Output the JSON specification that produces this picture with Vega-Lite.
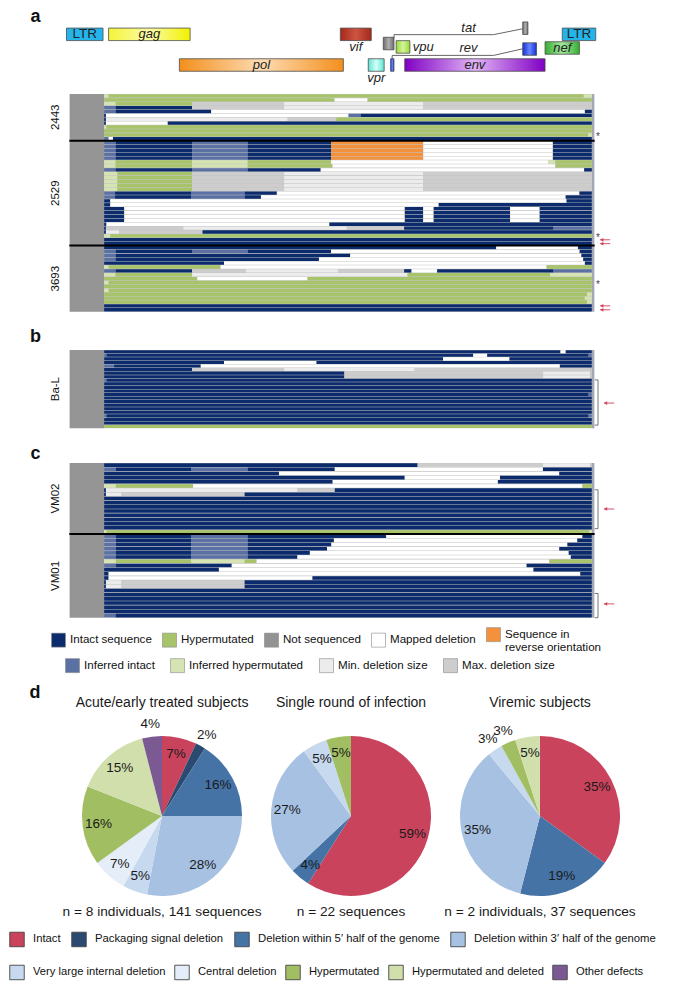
{
"$schema":"https://vega.github.io/schema/vega-lite/v6.json",
"padding":0,"spacing":0,"bounds":"flush",
"config":{"view":{"stroke":null},"font":"Liberation Sans"},
"resolve":{"scale":{"color":"independent"},"legend":{"color":"independent"}},
"datasets":{
"genes":[{"g":"LTR","a":28,"b":697,"l":1},{"g":"gag","a":799,"b":2292,"l":1},{"g":"vif","a":5043,"b":5609,"l":1},{"g":"tat","a":8383,"b":8478,"l":0.6},{"g":"LTR","a":9107,"b":9720,"l":1},{"g":"tat","a":5829,"b":6025,"l":1.6},{"g":"vpu","a":6065,"b":6316,"l":1.82},{"g":"rev","a":8383,"b":8635,"l":1.96},{"g":"nef","a":8792,"b":9421,"l":1.89},{"g":"pol","a":2095,"b":5098,"l":3},{"g":"vpr","a":5554,"b":5845,"l":3},{"g":"rev","a":5963,"b":6025,"l":3},{"g":"env","a":6222,"b":8792,"l":3}],
"splice":[{"g":"tat","k":0,"x":6026,"y":1.24},{"g":"tat","k":1,"x":6026,"y":1.02},{"g":"tat","k":2,"x":7849,"y":1.02},{"g":"tat","k":3,"x":8383,"y":0.635},{"g":"rev","k":0,"x":5992,"y":2.64},{"g":"rev","k":1,"x":5992,"y":2.374},{"g":"rev","k":2,"x":7849,"y":2.374},{"g":"rev","k":3,"x":8383,"y":1.945}],
"A":[
{"s":"2443","r":0,"a":717,"b":800,"c":"IH"},{"s":"2443","r":0,"a":800,"b":9500,"c":"H"},{"s":"2443","r":0,"a":9500,"b":9648,"c":"IH"},
{"s":"2443","r":1,"a":717,"b":4937,"c":"H"},{"s":"2443","r":1,"a":4937,"b":5542,"c":"D"},{"s":"2443","r":1,"a":5542,"b":9648,"c":"H"},
{"s":"2443","r":2,"a":717,"b":927,"c":"IH"},{"s":"2443","r":2,"a":927,"b":2327,"c":"H"},{"s":"2443","r":2,"a":2327,"b":4014,"c":"MX"},{"s":"2443","r":2,"a":4014,"b":6561,"c":"MN"},{"s":"2443","r":2,"a":6561,"b":9648,"c":"MX"},
{"s":"2443","r":3,"a":717,"b":927,"c":"II"},{"s":"2443","r":3,"a":927,"b":2327,"c":"I"},{"s":"2443","r":3,"a":2327,"b":4014,"c":"MX"},{"s":"2443","r":3,"a":4014,"b":6561,"c":"MN"},{"s":"2443","r":3,"a":6561,"b":9648,"c":"MX"},
{"s":"2443","r":4,"a":717,"b":927,"c":"II"},{"s":"2443","r":4,"a":927,"b":2678,"c":"I"},{"s":"2443","r":4,"a":2678,"b":9521,"c":"D"},{"s":"2443","r":4,"a":9521,"b":9648,"c":"I"},
{"s":"2443","r":5,"a":717,"b":750,"c":"I"},{"s":"2443","r":5,"a":750,"b":5192,"c":"D"},{"s":"2443","r":5,"a":5192,"b":5415,"c":"II"},{"s":"2443","r":5,"a":5415,"b":9648,"c":"I"},
{"s":"2443","r":6,"a":717,"b":750,"c":"I"},{"s":"2443","r":6,"a":750,"b":4078,"c":"MN"},{"s":"2443","r":6,"a":4078,"b":4970,"c":"MX"},{"s":"2443","r":6,"a":4970,"b":9648,"c":"H"},
{"s":"2443","r":7,"a":717,"b":750,"c":"I"},{"s":"2443","r":7,"a":750,"b":1882,"c":"D"},{"s":"2443","r":7,"a":1882,"b":9648,"c":"I"},
{"s":"2443","r":8,"a":717,"b":760,"c":"IH"},{"s":"2443","r":8,"a":760,"b":9648,"c":"H"},
{"s":"2443","r":9,"a":717,"b":9648,"c":"H"},
{"s":"2443","r":10,"a":717,"b":9580,"c":"H"},{"s":"2443","r":10,"a":9580,"b":9648,"c":"IH"},
{"s":"2443","r":11,"a":717,"b":800,"c":"II"},{"s":"2443","r":11,"a":800,"b":880,"c":"D"},{"s":"2443","r":11,"a":880,"b":9648,"c":"I"},
{"s":"2529","r":12,"a":717,"b":927,"c":"II"},{"s":"2529","r":12,"a":927,"b":2327,"c":"I"},{"s":"2529","r":12,"a":2327,"b":3346,"c":"II"},{"s":"2529","r":12,"a":3346,"b":4874,"c":"I"},{"s":"2529","r":12,"a":4874,"b":6561,"c":"R"},{"s":"2529","r":12,"a":6561,"b":8935,"c":"D"},{"s":"2529","r":12,"a":8935,"b":9648,"c":"I"},
{"s":"2529","r":13,"a":717,"b":927,"c":"II"},{"s":"2529","r":13,"a":927,"b":2327,"c":"I"},{"s":"2529","r":13,"a":2327,"b":3346,"c":"II"},{"s":"2529","r":13,"a":3346,"b":4874,"c":"I"},{"s":"2529","r":13,"a":4874,"b":6561,"c":"R"},{"s":"2529","r":13,"a":6561,"b":8935,"c":"D"},{"s":"2529","r":13,"a":8935,"b":9648,"c":"I"},
{"s":"2529","r":14,"a":717,"b":927,"c":"II"},{"s":"2529","r":14,"a":927,"b":2327,"c":"I"},{"s":"2529","r":14,"a":2327,"b":3346,"c":"II"},{"s":"2529","r":14,"a":3346,"b":4874,"c":"I"},{"s":"2529","r":14,"a":4874,"b":6561,"c":"R"},{"s":"2529","r":14,"a":6561,"b":8935,"c":"D"},{"s":"2529","r":14,"a":8935,"b":9648,"c":"I"},
{"s":"2529","r":15,"a":717,"b":927,"c":"II"},{"s":"2529","r":15,"a":927,"b":2327,"c":"I"},{"s":"2529","r":15,"a":2327,"b":3346,"c":"II"},{"s":"2529","r":15,"a":3346,"b":4874,"c":"I"},{"s":"2529","r":15,"a":4874,"b":6561,"c":"R"},{"s":"2529","r":15,"a":6561,"b":8935,"c":"D"},{"s":"2529","r":15,"a":8935,"b":9648,"c":"I"},
{"s":"2529","r":16,"a":717,"b":927,"c":"II"},{"s":"2529","r":16,"a":927,"b":2327,"c":"I"},{"s":"2529","r":16,"a":2327,"b":3346,"c":"II"},{"s":"2529","r":16,"a":3346,"b":4874,"c":"I"},{"s":"2529","r":16,"a":4874,"b":6561,"c":"R"},{"s":"2529","r":16,"a":6561,"b":8935,"c":"D"},{"s":"2529","r":16,"a":8935,"b":9648,"c":"I"},
{"s":"2529","r":17,"a":717,"b":927,"c":"IH"},{"s":"2529","r":17,"a":927,"b":2327,"c":"H"},{"s":"2529","r":17,"a":2327,"b":3346,"c":"IH"},{"s":"2529","r":17,"a":3346,"b":4874,"c":"H"},{"s":"2529","r":17,"a":4874,"b":8852,"c":"D"},{"s":"2529","r":17,"a":8852,"b":8980,"c":"IH"},{"s":"2529","r":17,"a":8980,"b":9648,"c":"H"},
{"s":"2529","r":18,"a":717,"b":927,"c":"IH"},{"s":"2529","r":18,"a":927,"b":2327,"c":"H"},{"s":"2529","r":18,"a":2327,"b":3346,"c":"IH"},{"s":"2529","r":18,"a":3346,"b":4900,"c":"H"},{"s":"2529","r":18,"a":4900,"b":8980,"c":"D"},{"s":"2529","r":18,"a":8980,"b":9648,"c":"H"},
{"s":"2529","r":19,"a":717,"b":927,"c":"II"},{"s":"2529","r":19,"a":927,"b":2327,"c":"I"},{"s":"2529","r":19,"a":2327,"b":3346,"c":"II"},{"s":"2529","r":19,"a":3346,"b":4683,"c":"I"},{"s":"2529","r":19,"a":4683,"b":9508,"c":"D"},{"s":"2529","r":19,"a":9508,"b":9648,"c":"I"},
{"s":"2529","r":20,"a":717,"b":959,"c":"IH"},{"s":"2529","r":20,"a":959,"b":2327,"c":"H"},{"s":"2529","r":20,"a":2327,"b":4014,"c":"MX"},{"s":"2529","r":20,"a":4014,"b":6561,"c":"MN"},{"s":"2529","r":20,"a":6561,"b":9648,"c":"MX"},
{"s":"2529","r":21,"a":717,"b":959,"c":"IH"},{"s":"2529","r":21,"a":959,"b":2327,"c":"H"},{"s":"2529","r":21,"a":2327,"b":4014,"c":"MX"},{"s":"2529","r":21,"a":4014,"b":6561,"c":"MN"},{"s":"2529","r":21,"a":6561,"b":9648,"c":"MX"},
{"s":"2529","r":22,"a":717,"b":959,"c":"IH"},{"s":"2529","r":22,"a":959,"b":2327,"c":"H"},{"s":"2529","r":22,"a":2327,"b":4014,"c":"MX"},{"s":"2529","r":22,"a":4014,"b":6561,"c":"MN"},{"s":"2529","r":22,"a":6561,"b":9648,"c":"MX"},
{"s":"2529","r":23,"a":717,"b":959,"c":"IH"},{"s":"2529","r":23,"a":959,"b":2327,"c":"H"},{"s":"2529","r":23,"a":2327,"b":4014,"c":"MX"},{"s":"2529","r":23,"a":4014,"b":6561,"c":"MN"},{"s":"2529","r":23,"a":6561,"b":9648,"c":"MX"},
{"s":"2529","r":24,"a":717,"b":959,"c":"IH"},{"s":"2529","r":24,"a":959,"b":2327,"c":"H"},{"s":"2529","r":24,"a":2327,"b":4014,"c":"MX"},{"s":"2529","r":24,"a":4014,"b":6561,"c":"MN"},{"s":"2529","r":24,"a":6561,"b":9648,"c":"MX"},
{"s":"2529","r":25,"a":717,"b":917,"c":"II"},{"s":"2529","r":25,"a":917,"b":2308,"c":"I"},{"s":"2529","r":25,"a":2308,"b":3290,"c":"II"},{"s":"2529","r":25,"a":3290,"b":3880,"c":"I"},{"s":"2529","r":25,"a":3880,"b":9421,"c":"D"},{"s":"2529","r":25,"a":9421,"b":9648,"c":"I"},
{"s":"2529","r":26,"a":717,"b":917,"c":"II"},{"s":"2529","r":26,"a":917,"b":2308,"c":"I"},{"s":"2529","r":26,"a":2308,"b":3290,"c":"II"},{"s":"2529","r":26,"a":3290,"b":3589,"c":"I"},{"s":"2529","r":26,"a":3589,"b":9169,"c":"D"},{"s":"2529","r":26,"a":9169,"b":9648,"c":"I"},
{"s":"2529","r":27,"a":717,"b":830,"c":"I"},{"s":"2529","r":27,"a":830,"b":9185,"c":"D"},{"s":"2529","r":27,"a":9185,"b":9648,"c":"I"},
{"s":"2529","r":28,"a":717,"b":830,"c":"I"},{"s":"2529","r":28,"a":830,"b":6843,"c":"D"},{"s":"2529","r":28,"a":6843,"b":9648,"c":"I"},
{"s":"2529","r":29,"a":717,"b":1086,"c":"I"},{"s":"2529","r":29,"a":1086,"b":6223,"c":"D"},{"s":"2529","r":29,"a":6223,"b":6561,"c":"I"},{"s":"2529","r":29,"a":6561,"b":6752,"c":"D"},{"s":"2529","r":29,"a":6752,"b":8152,"c":"I"},{"s":"2529","r":29,"a":8152,"b":8693,"c":"D"},{"s":"2529","r":29,"a":8693,"b":9648,"c":"I"},
{"s":"2529","r":30,"a":717,"b":1086,"c":"I"},{"s":"2529","r":30,"a":1086,"b":6223,"c":"D"},{"s":"2529","r":30,"a":6223,"b":6561,"c":"I"},{"s":"2529","r":30,"a":6561,"b":6752,"c":"D"},{"s":"2529","r":30,"a":6752,"b":8152,"c":"I"},{"s":"2529","r":30,"a":8152,"b":8693,"c":"D"},{"s":"2529","r":30,"a":8693,"b":9648,"c":"I"},
{"s":"2529","r":31,"a":717,"b":1086,"c":"I"},{"s":"2529","r":31,"a":1086,"b":6223,"c":"D"},{"s":"2529","r":31,"a":6223,"b":6561,"c":"I"},{"s":"2529","r":31,"a":6561,"b":6752,"c":"D"},{"s":"2529","r":31,"a":6752,"b":8152,"c":"I"},{"s":"2529","r":31,"a":8152,"b":8693,"c":"D"},{"s":"2529","r":31,"a":8693,"b":9648,"c":"I"},
{"s":"2529","r":32,"a":717,"b":1086,"c":"I"},{"s":"2529","r":32,"a":1086,"b":6223,"c":"D"},{"s":"2529","r":32,"a":6223,"b":6561,"c":"I"},{"s":"2529","r":32,"a":6561,"b":6752,"c":"D"},{"s":"2529","r":32,"a":6752,"b":8152,"c":"I"},{"s":"2529","r":32,"a":8152,"b":8693,"c":"D"},{"s":"2529","r":32,"a":8693,"b":9648,"c":"I"},
{"s":"2529","r":33,"a":717,"b":760,"c":"I"},{"s":"2529","r":33,"a":760,"b":4842,"c":"D"},{"s":"2529","r":33,"a":4842,"b":9648,"c":"I"},
{"s":"2529","r":34,"a":717,"b":750,"c":"I"},{"s":"2529","r":34,"a":750,"b":2168,"c":"MX"},{"s":"2529","r":34,"a":2168,"b":5160,"c":"MN"},{"s":"2529","r":34,"a":5160,"b":6211,"c":"MX"},{"s":"2529","r":34,"a":6211,"b":8948,"c":"I"},{"s":"2529","r":34,"a":8948,"b":9648,"c":"II"},
{"s":"2529","r":35,"a":717,"b":750,"c":"I"},{"s":"2529","r":35,"a":750,"b":990,"c":"MN"},{"s":"2529","r":35,"a":990,"b":2519,"c":"MX"},{"s":"2529","r":35,"a":2519,"b":9648,"c":"I"},
{"s":"2529","r":36,"a":717,"b":830,"c":"IH"},{"s":"2529","r":36,"a":830,"b":9648,"c":"H"},
{"s":"2529","r":37,"a":717,"b":9648,"c":"I"},
{"s":"2529","r":38,"a":717,"b":9648,"c":"I"},
{"s":"3693","r":39,"a":717,"b":7897,"c":"I"},{"s":"3693","r":39,"a":7897,"b":9394,"c":"D"},{"s":"3693","r":39,"a":9394,"b":9648,"c":"I"},
{"s":"3693","r":40,"a":717,"b":927,"c":"II"},{"s":"3693","r":40,"a":927,"b":2327,"c":"I"},{"s":"3693","r":40,"a":2327,"b":3346,"c":"II"},{"s":"3693","r":40,"a":3346,"b":4874,"c":"I"},{"s":"3693","r":40,"a":4874,"b":9425,"c":"D"},{"s":"3693","r":40,"a":9425,"b":9648,"c":"I"},
{"s":"3693","r":41,"a":717,"b":927,"c":"II"},{"s":"3693","r":41,"a":927,"b":5224,"c":"I"},{"s":"3693","r":41,"a":5224,"b":9457,"c":"D"},{"s":"3693","r":41,"a":9457,"b":9648,"c":"I"},
{"s":"3693","r":42,"a":717,"b":927,"c":"II"},{"s":"3693","r":42,"a":927,"b":4651,"c":"I"},{"s":"3693","r":42,"a":4651,"b":9490,"c":"D"},{"s":"3693","r":42,"a":9490,"b":9648,"c":"I"},
{"s":"3693","r":43,"a":717,"b":2913,"c":"I"},{"s":"3693","r":43,"a":2913,"b":9521,"c":"D"},{"s":"3693","r":43,"a":9521,"b":9648,"c":"I"},
{"s":"3693","r":44,"a":717,"b":800,"c":"IH"},{"s":"3693","r":44,"a":800,"b":2850,"c":"H"},{"s":"3693","r":44,"a":2850,"b":8820,"c":"D"},{"s":"3693","r":44,"a":8820,"b":9648,"c":"H"},
{"s":"3693","r":45,"a":717,"b":927,"c":"II"},{"s":"3693","r":45,"a":927,"b":2327,"c":"I"},{"s":"3693","r":45,"a":2327,"b":3314,"c":"MX"},{"s":"3693","r":45,"a":3314,"b":4998,"c":"MN"},{"s":"3693","r":45,"a":4998,"b":6211,"c":"MX"},{"s":"3693","r":45,"a":6211,"b":6347,"c":"I"},{"s":"3693","r":45,"a":6347,"b":6815,"c":"D"},{"s":"3693","r":45,"a":6815,"b":8948,"c":"I"},{"s":"3693","r":45,"a":8948,"b":9648,"c":"II"},
{"s":"3693","r":46,"a":717,"b":927,"c":"IH"},{"s":"3693","r":46,"a":927,"b":2327,"c":"H"},{"s":"3693","r":46,"a":2327,"b":6274,"c":"MN"},{"s":"3693","r":46,"a":6274,"b":8884,"c":"H"},{"s":"3693","r":46,"a":8884,"b":9648,"c":"IH"},
{"s":"3693","r":47,"a":717,"b":2423,"c":"H"},{"s":"3693","r":47,"a":2423,"b":4441,"c":"D"},{"s":"3693","r":47,"a":4441,"b":9648,"c":"H"},
{"s":"3693","r":48,"a":717,"b":800,"c":"IH"},{"s":"3693","r":48,"a":800,"b":9648,"c":"H"},
{"s":"3693","r":49,"a":717,"b":9648,"c":"H"},
{"s":"3693","r":50,"a":717,"b":800,"c":"IH"},{"s":"3693","r":50,"a":800,"b":9648,"c":"H"},
{"s":"3693","r":51,"a":717,"b":9560,"c":"H"},{"s":"3693","r":51,"a":9560,"b":9648,"c":"IH"},
{"s":"3693","r":52,"a":717,"b":9520,"c":"H"},{"s":"3693","r":52,"a":9520,"b":9648,"c":"IH"},
{"s":"3693","r":53,"a":717,"b":9560,"c":"H"},{"s":"3693","r":53,"a":9560,"b":9648,"c":"IH"},
{"s":"3693","r":54,"a":717,"b":9648,"c":"I"},
{"s":"3693","r":55,"a":717,"b":9648,"c":"I"}
],
"annA":[{"r":10,"k":"s"},{"r":36,"k":"s"},{"r":48,"k":"s"},{"r":37,"k":"a"},{"r":38,"k":"a"},{"r":54,"k":"a"},{"r":55,"k":"a"}],
"B":[
{"s":"Ba-L","r":0,"a":717,"b":9075,"c":"I"},{"s":"Ba-L","r":0,"a":9075,"b":9170,"c":"D"},{"s":"Ba-L","r":0,"a":9170,"b":9648,"c":"I"},
{"s":"Ba-L","r":1,"a":717,"b":760,"c":"II"},{"s":"Ba-L","r":1,"a":760,"b":7477,"c":"I"},{"s":"Ba-L","r":1,"a":7477,"b":7732,"c":"D"},{"s":"Ba-L","r":1,"a":7732,"b":9590,"c":"I"},{"s":"Ba-L","r":1,"a":9590,"b":9648,"c":"II"},
{"s":"Ba-L","r":2,"a":717,"b":6924,"c":"I"},{"s":"Ba-L","r":2,"a":6924,"b":8140,"c":"D"},{"s":"Ba-L","r":2,"a":8140,"b":9648,"c":"I"},
{"s":"Ba-L","r":3,"a":717,"b":2913,"c":"I"},{"s":"Ba-L","r":3,"a":2913,"b":4606,"c":"D"},{"s":"Ba-L","r":3,"a":4606,"b":9648,"c":"I"},
{"s":"Ba-L","r":4,"a":717,"b":900,"c":"II"},{"s":"Ba-L","r":4,"a":900,"b":2487,"c":"I"},{"s":"Ba-L","r":4,"a":2487,"b":9063,"c":"D"},{"s":"Ba-L","r":4,"a":9063,"b":9648,"c":"I"},
{"s":"Ba-L","r":5,"a":717,"b":2327,"c":"I"},{"s":"Ba-L","r":5,"a":2327,"b":4014,"c":"MX"},{"s":"Ba-L","r":5,"a":4014,"b":6402,"c":"MN"},{"s":"Ba-L","r":5,"a":6402,"b":9617,"c":"MX"},
{"s":"Ba-L","r":6,"a":717,"b":5116,"c":"I"},{"s":"Ba-L","r":6,"a":5116,"b":8757,"c":"MX"},{"s":"Ba-L","r":6,"a":8757,"b":9617,"c":"MN"},
{"s":"Ba-L","r":7,"a":717,"b":5116,"c":"I"},{"s":"Ba-L","r":7,"a":5116,"b":8757,"c":"MX"},{"s":"Ba-L","r":7,"a":8757,"b":9617,"c":"MN"},
{"s":"Ba-L","r":8,"a":717,"b":760,"c":"II"},{"s":"Ba-L","r":8,"a":760,"b":9648,"c":"I"},
{"s":"Ba-L","r":9,"a":717,"b":9648,"c":"I"},{"s":"Ba-L","r":10,"a":717,"b":9648,"c":"I"},{"s":"Ba-L","r":11,"a":717,"b":9648,"c":"I"},{"s":"Ba-L","r":12,"a":717,"b":9590,"c":"I"},{"s":"Ba-L","r":12,"a":9590,"b":9648,"c":"II"},
{"s":"Ba-L","r":13,"a":717,"b":9648,"c":"I"},{"s":"Ba-L","r":14,"a":717,"b":9648,"c":"I"},{"s":"Ba-L","r":15,"a":717,"b":9648,"c":"I"},{"s":"Ba-L","r":16,"a":717,"b":9648,"c":"I"},{"s":"Ba-L","r":17,"a":717,"b":9648,"c":"I"},
{"s":"Ba-L","r":18,"a":717,"b":760,"c":"II"},{"s":"Ba-L","r":18,"a":760,"b":9590,"c":"I"},{"s":"Ba-L","r":18,"a":9590,"b":9648,"c":"II"},
{"s":"Ba-L","r":19,"a":717,"b":9648,"c":"I"},{"s":"Ba-L","r":20,"a":717,"b":9648,"c":"I"},
{"s":"Ba-L","r":21,"a":717,"b":9648,"c":"H"}
],
"brB":[{"r0":8.4,"r1":21.1,"ra":14.9}],
"C":[
{"s":"VM02","r":0,"a":717,"b":6458,"c":"I"},{"s":"VM02","r":0,"a":6458,"b":8753,"c":"MX"},{"s":"VM02","r":0,"a":8753,"b":9620,"c":"MN"},
{"s":"VM02","r":1,"a":717,"b":932,"c":"II"},{"s":"VM02","r":1,"a":932,"b":2308,"c":"I"},{"s":"VM02","r":1,"a":2308,"b":3345,"c":"II"},{"s":"VM02","r":1,"a":3345,"b":4941,"c":"I"},{"s":"VM02","r":1,"a":4941,"b":8753,"c":"D"},{"s":"VM02","r":1,"a":8753,"b":9648,"c":"I"},
{"s":"VM02","r":2,"a":717,"b":3919,"c":"I"},{"s":"VM02","r":2,"a":3919,"b":9052,"c":"D"},{"s":"VM02","r":2,"a":9052,"b":9648,"c":"I"},
{"s":"VM02","r":3,"a":717,"b":6222,"c":"I"},{"s":"VM02","r":3,"a":6222,"b":7967,"c":"D"},{"s":"VM02","r":3,"a":7967,"b":9648,"c":"I"},
{"s":"VM02","r":4,"a":717,"b":4902,"c":"I"},{"s":"VM02","r":4,"a":4902,"b":7928,"c":"D"},{"s":"VM02","r":4,"a":7928,"b":9648,"c":"I"},
{"s":"VM02","r":5,"a":717,"b":932,"c":"IH"},{"s":"VM02","r":5,"a":932,"b":2347,"c":"H"},{"s":"VM02","r":5,"a":2347,"b":9476,"c":"D"},{"s":"VM02","r":5,"a":9476,"b":9648,"c":"H"},
{"s":"VM02","r":6,"a":717,"b":750,"c":"I"},{"s":"VM02","r":6,"a":750,"b":4257,"c":"MN"},{"s":"VM02","r":6,"a":4257,"b":4941,"c":"MX"},{"s":"VM02","r":6,"a":4941,"b":9648,"c":"I"},
{"s":"VM02","r":7,"a":717,"b":750,"c":"I"},{"s":"VM02","r":7,"a":750,"b":1034,"c":"MN"},{"s":"VM02","r":7,"a":1034,"b":3290,"c":"MX"},{"s":"VM02","r":7,"a":3290,"b":9648,"c":"I"},
{"s":"VM02","r":8,"a":717,"b":9648,"c":"I"},{"s":"VM02","r":9,"a":717,"b":9648,"c":"I"},{"s":"VM02","r":10,"a":717,"b":9648,"c":"I"},{"s":"VM02","r":11,"a":717,"b":9648,"c":"I"},{"s":"VM02","r":12,"a":717,"b":9648,"c":"I"},{"s":"VM02","r":13,"a":717,"b":9648,"c":"I"},{"s":"VM02","r":14,"a":717,"b":9648,"c":"I"},{"s":"VM02","r":15,"a":717,"b":9648,"c":"I"},
{"s":"VM02","r":16,"a":717,"b":760,"c":"IH"},{"s":"VM02","r":16,"a":760,"b":9600,"c":"H"},{"s":"VM02","r":16,"a":9600,"b":9648,"c":"IH"},
{"s":"VM01","r":17,"a":717,"b":932,"c":"II"},{"s":"VM01","r":17,"a":932,"b":2308,"c":"I"},{"s":"VM01","r":17,"a":2308,"b":3345,"c":"II"},{"s":"VM01","r":17,"a":3345,"b":5884,"c":"I"},{"s":"VM01","r":17,"a":5884,"b":9476,"c":"D"},{"s":"VM01","r":17,"a":9476,"b":9648,"c":"I"},
{"s":"VM01","r":18,"a":717,"b":932,"c":"II"},{"s":"VM01","r":18,"a":932,"b":2308,"c":"I"},{"s":"VM01","r":18,"a":2308,"b":3345,"c":"II"},{"s":"VM01","r":18,"a":3345,"b":4925,"c":"I"},{"s":"VM01","r":18,"a":4925,"b":9382,"c":"D"},{"s":"VM01","r":18,"a":9382,"b":9648,"c":"I"},
{"s":"VM01","r":19,"a":717,"b":932,"c":"II"},{"s":"VM01","r":19,"a":932,"b":2308,"c":"I"},{"s":"VM01","r":19,"a":2308,"b":3345,"c":"II"},{"s":"VM01","r":19,"a":3345,"b":4878,"c":"I"},{"s":"VM01","r":19,"a":4878,"b":9201,"c":"D"},{"s":"VM01","r":19,"a":9201,"b":9648,"c":"I"},
{"s":"VM01","r":20,"a":717,"b":932,"c":"II"},{"s":"VM01","r":20,"a":932,"b":2308,"c":"I"},{"s":"VM01","r":20,"a":2308,"b":3345,"c":"II"},{"s":"VM01","r":20,"a":3345,"b":4799,"c":"I"},{"s":"VM01","r":20,"a":4799,"b":9052,"c":"D"},{"s":"VM01","r":20,"a":9052,"b":9648,"c":"I"},
{"s":"VM01","r":21,"a":717,"b":932,"c":"II"},{"s":"VM01","r":21,"a":932,"b":2308,"c":"I"},{"s":"VM01","r":21,"a":2308,"b":3345,"c":"II"},{"s":"VM01","r":21,"a":3345,"b":4485,"c":"I"},{"s":"VM01","r":21,"a":4485,"b":9225,"c":"D"},{"s":"VM01","r":21,"a":9225,"b":9648,"c":"I"},
{"s":"VM01","r":22,"a":717,"b":932,"c":"II"},{"s":"VM01","r":22,"a":932,"b":2308,"c":"I"},{"s":"VM01","r":22,"a":2308,"b":3345,"c":"II"},{"s":"VM01","r":22,"a":3345,"b":4257,"c":"I"},{"s":"VM01","r":22,"a":4257,"b":9264,"c":"D"},{"s":"VM01","r":22,"a":9264,"b":9648,"c":"I"},
{"s":"VM01","r":23,"a":717,"b":932,"c":"IH"},{"s":"VM01","r":23,"a":932,"b":2308,"c":"H"},{"s":"VM01","r":23,"a":2308,"b":3290,"c":"IH"},{"s":"VM01","r":23,"a":3290,"b":3510,"c":"H"},{"s":"VM01","r":23,"a":3510,"b":8871,"c":"D"},{"s":"VM01","r":23,"a":8871,"b":9648,"c":"H"},
{"s":"VM01","r":24,"a":717,"b":932,"c":"II"},{"s":"VM01","r":24,"a":932,"b":3054,"c":"I"},{"s":"VM01","r":24,"a":3054,"b":8454,"c":"D"},{"s":"VM01","r":24,"a":8454,"b":9648,"c":"I"},
{"s":"VM01","r":25,"a":717,"b":2819,"c":"I"},{"s":"VM01","r":25,"a":2819,"b":8580,"c":"D"},{"s":"VM01","r":25,"a":8580,"b":9648,"c":"I"},
{"s":"VM01","r":26,"a":717,"b":799,"c":"I"},{"s":"VM01","r":26,"a":799,"b":9437,"c":"D"},{"s":"VM01","r":26,"a":9437,"b":9648,"c":"I"},
{"s":"VM01","r":27,"a":717,"b":799,"c":"I"},{"s":"VM01","r":27,"a":799,"b":4532,"c":"D"},{"s":"VM01","r":27,"a":4532,"b":9648,"c":"I"},
{"s":"VM01","r":28,"a":717,"b":750,"c":"I"},{"s":"VM01","r":28,"a":750,"b":1034,"c":"MN"},{"s":"VM01","r":28,"a":1034,"b":3290,"c":"MX"},{"s":"VM01","r":28,"a":3290,"b":9648,"c":"I"},
{"s":"VM01","r":29,"a":717,"b":750,"c":"I"},{"s":"VM01","r":29,"a":750,"b":1034,"c":"MN"},{"s":"VM01","r":29,"a":1034,"b":3290,"c":"MX"},{"s":"VM01","r":29,"a":3290,"b":9648,"c":"I"},
{"s":"VM01","r":30,"a":717,"b":9648,"c":"I"},{"s":"VM01","r":31,"a":717,"b":9648,"c":"I"},{"s":"VM01","r":32,"a":717,"b":9648,"c":"I"},{"s":"VM01","r":33,"a":717,"b":9648,"c":"I"},{"s":"VM01","r":34,"a":717,"b":9648,"c":"I"},{"s":"VM01","r":35,"a":717,"b":9648,"c":"I"},
{"s":"VM01","r":36,"a":717,"b":927,"c":"II"},{"s":"VM01","r":36,"a":927,"b":9648,"c":"I"}
],
"brC":[{"r0":6.4,"r1":15.7,"ra":11},{"r0":31.2,"r1":37,"ra":33.7}],
"pie":[
{"p":"A","c":"in","v":7},{"p":"A","c":"ps","v":2},{"p":"A","c":"d5","v":16},{"p":"A","c":"d3","v":28},{"p":"A","c":"vl","v":5},{"p":"A","c":"ce","v":7},{"p":"A","c":"hy","v":16},{"p":"A","c":"hd","v":15},{"p":"A","c":"ot","v":4},
{"p":"S","c":"in","v":59},{"p":"S","c":"d5","v":4},{"p":"S","c":"d3","v":27},{"p":"S","c":"vl","v":5},{"p":"S","c":"hy","v":5},
{"p":"V","c":"in","v":35},{"p":"V","c":"d5","v":19},{"p":"V","c":"d3","v":35},{"p":"V","c":"vl","v":3},{"p":"V","c":"hy","v":3},{"p":"V","c":"hd","v":5}
],
"pies":[{"p":"A","t":"Acute/early treated subjects","n":"n = 8 individuals, 141 sequences"},{"p":"S","t":"Single round of infection","n":"n = 22 sequences"},{"p":"V","t":"Viremic subjects","n":"n = 2 individuals, 37 sequences"}]
},
"vconcat":[
{"width":673,"height":90,
 "layer":[
  {"data":{"name":"splice"},"mark":{"type":"line","color":"#555","strokeWidth":0.9},"encoding":{"x":{"field":"x","type":"quantitative","scale":{"domain":[-1190,11135],"nice":false,"zero":false},"axis":null},"y":{"field":"y","type":"quantitative","scale":{"domain":[-0.913,4.304],"nice":false,"zero":false,"reverse":true},"axis":null},"detail":{"field":"g"},"order":{"field":"k","type":"quantitative"}}},
  {"data":{"name":"genes"},"transform":[{"filter":"datum.g=='LTR'"}],"mark":{"type":"bar","orient":"horizontal","height":12.5,"fill":"#25b4ea","stroke":"#4d4d4d","strokeWidth":0.8},"encoding":{"x":{"field":"a","type":"quantitative","scale":{"domain":[-1190,11135],"nice":false,"zero":false},"axis":null},"x2":{"field":"b"},"y":{"field":"l","type":"quantitative","scale":{"domain":[-0.913,4.304],"nice":false,"zero":false,"reverse":true},"axis":null}}},
  {"data":{"name":"genes"},"transform":[{"filter":"datum.g=='gag'"}],"mark":{"type":"bar","orient":"horizontal","height":12.5,"fill":{"gradient":"linear","x1":0,"y1":0,"x2":1,"y2":0,"stops":[{"offset":0,"color":"#f4f43a"},{"offset":0.5,"color":"#fbfba6"},{"offset":1,"color":"#f2f200"}]},"stroke":"#4d4d4d","strokeWidth":0.8},"encoding":{"x":{"field":"a","type":"quantitative","scale":{"domain":[-1190,11135],"nice":false,"zero":false},"axis":null},"x2":{"field":"b"},"y":{"field":"l","type":"quantitative","scale":{"domain":[-0.913,4.304],"nice":false,"zero":false,"reverse":true},"axis":null}}},
  {"data":{"name":"genes"},"transform":[{"filter":"datum.g=='vif'"}],"mark":{"type":"bar","orient":"horizontal","height":12.5,"fill":{"gradient":"linear","x1":0,"y1":0,"x2":1,"y2":0,"stops":[{"offset":0,"color":"#a5281c"},{"offset":0.5,"color":"#cc5540"},{"offset":1,"color":"#a5281c"}]},"stroke":"#4d4d4d","strokeWidth":0.8},"encoding":{"x":{"field":"a","type":"quantitative","scale":{"domain":[-1190,11135],"nice":false,"zero":false},"axis":null},"x2":{"field":"b"},"y":{"field":"l","type":"quantitative","scale":{"domain":[-0.913,4.304],"nice":false,"zero":false,"reverse":true},"axis":null}}},
  {"data":{"name":"genes"},"transform":[{"filter":"datum.g=='tat'"}],"mark":{"type":"bar","orient":"horizontal","height":12.5,"fill":{"gradient":"linear","x1":0,"y1":0,"x2":1,"y2":0,"stops":[{"offset":0,"color":"#6c6c6c"},{"offset":0.5,"color":"#b0b0b0"},{"offset":1,"color":"#6c6c6c"}]},"stroke":"#4d4d4d","strokeWidth":0.8},"encoding":{"x":{"field":"a","type":"quantitative","scale":{"domain":[-1190,11135],"nice":false,"zero":false},"axis":null},"x2":{"field":"b"},"y":{"field":"l","type":"quantitative","scale":{"domain":[-0.913,4.304],"nice":false,"zero":false,"reverse":true},"axis":null}}},
  {"data":{"name":"genes"},"transform":[{"filter":"datum.g=='vpu'"}],"mark":{"type":"bar","orient":"horizontal","height":12.5,"fill":{"gradient":"linear","x1":0,"y1":0,"x2":1,"y2":0,"stops":[{"offset":0,"color":"#98da36"},{"offset":0.5,"color":"#d4f59c"},{"offset":1,"color":"#98da36"}]},"stroke":"#4d4d4d","strokeWidth":0.8},"encoding":{"x":{"field":"a","type":"quantitative","scale":{"domain":[-1190,11135],"nice":false,"zero":false},"axis":null},"x2":{"field":"b"},"y":{"field":"l","type":"quantitative","scale":{"domain":[-0.913,4.304],"nice":false,"zero":false,"reverse":true},"axis":null}}},
  {"data":{"name":"genes"},"transform":[{"filter":"datum.g=='rev'"}],"mark":{"type":"bar","orient":"horizontal","height":12.5,"fill":{"gradient":"linear","x1":0,"y1":0,"x2":1,"y2":0,"stops":[{"offset":0,"color":"#1232d8"},{"offset":0.5,"color":"#6a86ff"},{"offset":1,"color":"#1232d8"}]},"stroke":"#4d4d4d","strokeWidth":0.8},"encoding":{"x":{"field":"a","type":"quantitative","scale":{"domain":[-1190,11135],"nice":false,"zero":false},"axis":null},"x2":{"field":"b"},"y":{"field":"l","type":"quantitative","scale":{"domain":[-0.913,4.304],"nice":false,"zero":false,"reverse":true},"axis":null}}},
  {"data":{"name":"genes"},"transform":[{"filter":"datum.g=='nef'"}],"mark":{"type":"bar","orient":"horizontal","height":12.5,"fill":{"gradient":"linear","x1":0,"y1":0,"x2":1,"y2":0,"stops":[{"offset":0,"color":"#36ae30"},{"offset":0.5,"color":"#a6e8a0"},{"offset":1,"color":"#36ae30"}]},"stroke":"#4d4d4d","strokeWidth":0.8},"encoding":{"x":{"field":"a","type":"quantitative","scale":{"domain":[-1190,11135],"nice":false,"zero":false},"axis":null},"x2":{"field":"b"},"y":{"field":"l","type":"quantitative","scale":{"domain":[-0.913,4.304],"nice":false,"zero":false,"reverse":true},"axis":null}}},
  {"data":{"name":"genes"},"transform":[{"filter":"datum.g=='pol'"}],"mark":{"type":"bar","orient":"horizontal","height":12.5,"fill":{"gradient":"linear","x1":0,"y1":0,"x2":1,"y2":0,"stops":[{"offset":0,"color":"#f38f1c"},{"offset":0.5,"color":"#fddcb4"},{"offset":1,"color":"#f38f1c"}]},"stroke":"#4d4d4d","strokeWidth":0.8},"encoding":{"x":{"field":"a","type":"quantitative","scale":{"domain":[-1190,11135],"nice":false,"zero":false},"axis":null},"x2":{"field":"b"},"y":{"field":"l","type":"quantitative","scale":{"domain":[-0.913,4.304],"nice":false,"zero":false,"reverse":true},"axis":null}}},
  {"data":{"name":"genes"},"transform":[{"filter":"datum.g=='vpr'"}],"mark":{"type":"bar","orient":"horizontal","height":12.5,"fill":{"gradient":"linear","x1":0,"y1":0,"x2":1,"y2":0,"stops":[{"offset":0,"color":"#5fe3d2"},{"offset":0.5,"color":"#d2fffa"},{"offset":1,"color":"#5fe3d2"}]},"stroke":"#4d4d4d","strokeWidth":0.8},"encoding":{"x":{"field":"a","type":"quantitative","scale":{"domain":[-1190,11135],"nice":false,"zero":false},"axis":null},"x2":{"field":"b"},"y":{"field":"l","type":"quantitative","scale":{"domain":[-0.913,4.304],"nice":false,"zero":false,"reverse":true},"axis":null}}},
  {"data":{"name":"genes"},"transform":[{"filter":"datum.g=='env'"}],"mark":{"type":"bar","orient":"horizontal","height":12.5,"fill":{"gradient":"linear","x1":0,"y1":0,"x2":1,"y2":0,"stops":[{"offset":0,"color":"#8000c4"},{"offset":0.5,"color":"#e0b4f5"},{"offset":1,"color":"#8000c4"}]},"stroke":"#4d4d4d","strokeWidth":0.8},"encoding":{"x":{"field":"a","type":"quantitative","scale":{"domain":[-1190,11135],"nice":false,"zero":false},"axis":null},"x2":{"field":"b"},"y":{"field":"l","type":"quantitative","scale":{"domain":[-0.913,4.304],"nice":false,"zero":false,"reverse":true},"axis":null}}},
  {"data":{"name":"genes"},"transform":[{"filter":"indexof(['gag','pol','env','nef'],datum.g)>=0"},{"calculate":"(datum.a+datum.b)/2","as":"m"}],"mark":{"type":"text","fontSize":13,"fontStyle":"italic","color":"#222","align":"center","baseline":"middle"},"encoding":{"x":{"field":"m","type":"quantitative","scale":{"domain":[-1190,11135],"nice":false,"zero":false},"axis":null},"y":{"field":"l","type":"quantitative","scale":{"domain":[-0.913,4.304],"nice":false,"zero":false,"reverse":true},"axis":null},"text":{"field":"g"}}},
  {"data":{"name":"genes"},"transform":[{"filter":"datum.g=='LTR'"},{"calculate":"(datum.a+datum.b)/2","as":"m"}],"mark":{"type":"text","fontSize":13.5,"color":"#222","align":"center","baseline":"middle"},"encoding":{"x":{"field":"m","type":"quantitative","scale":{"domain":[-1190,11135],"nice":false,"zero":false},"axis":null},"y":{"field":"l","type":"quantitative","scale":{"domain":[-0.913,4.304],"nice":false,"zero":false,"reverse":true},"axis":null},"text":{"field":"g"}}},
  {"data":{"name":"genes"},"transform":[{"filter":"datum.g=='vif'||datum.g=='vpr'"},{"calculate":"(datum.a+datum.b)/2","as":"m"}],"mark":{"type":"text","fontSize":13,"fontStyle":"italic","color":"#222","align":"center","baseline":"middle","dy":13},"encoding":{"x":{"field":"m","type":"quantitative","scale":{"domain":[-1190,11135],"nice":false,"zero":false},"axis":null},"y":{"field":"l","type":"quantitative","scale":{"domain":[-0.913,4.304],"nice":false,"zero":false,"reverse":true},"axis":null},"text":{"field":"g"}}},
  {"data":{"name":"genes"},"transform":[{"filter":"datum.g=='vpu'"}],"mark":{"type":"text","fontSize":13,"fontStyle":"italic","color":"#222","align":"left","baseline":"middle","dx":3},"encoding":{"x":{"field":"b","type":"quantitative","scale":{"domain":[-1190,11135],"nice":false,"zero":false},"axis":null},"y":{"field":"l","type":"quantitative","scale":{"domain":[-0.913,4.304],"nice":false,"zero":false,"reverse":true},"axis":null},"text":{"field":"g"}}},
  {"data":{"name":"splice"},"transform":[{"filter":"datum.k==2"}],"mark":{"type":"text","fontSize":13,"fontStyle":"italic","color":"#222","align":"center","baseline":"middle","dx":-25,"dy":-7},"encoding":{"x":{"field":"x","type":"quantitative","scale":{"domain":[-1190,11135],"nice":false,"zero":false},"axis":null},"y":{"field":"y","type":"quantitative","scale":{"domain":[-0.913,4.304],"nice":false,"zero":false,"reverse":true},"axis":null},"text":{"field":"g"}}},
  {"data":{"values":[{"t":"a"}]},"mark":{"type":"text","fontSize":18,"fontWeight":"bold","color":"#111","align":"center","baseline":"middle"},"encoding":{"x":{"datum":-540,"type":"quantitative","scale":{"domain":[-1190,11135],"nice":false,"zero":false},"axis":null},"y":{"datum":-0.159,"type":"quantitative","scale":{"domain":[-0.913,4.304],"nice":false,"zero":false,"reverse":true},"axis":null},"text":{"field":"t"}}}
 ]},
{"width":673,"height":228,
 "data":{"name":"A"},
 "layer":[
  {"transform":[{"aggregate":[{"op":"min","field":"r","as":"lo"},{"op":"max","field":"r","as":"hi"}]},{"calculate":"datum.hi+1","as":"hi1"}],"mark":{"type":"rect","color":"#c4c4c4"},"encoding":{"x":{"datum":717,"type":"quantitative","scale":{"domain":[-1190,11135],"nice":false,"zero":false},"axis":null},"x2":{"datum":9648},"y":{"field":"lo","type":"quantitative","scale":{"domain":[-1.029,57.62],"nice":false,"zero":false,"reverse":true},"axis":null},"y2":{"field":"hi1"}}},
  {"transform":[{"aggregate":[{"op":"min","field":"r","as":"lo"},{"op":"max","field":"r","as":"hi"}]},{"calculate":"datum.hi+1","as":"hi1"}],"mark":{"type":"rect","color":"#959595"},"encoding":{"x":{"datum":85,"type":"quantitative","scale":{"domain":[-1190,11135],"nice":false,"zero":false},"axis":null},"x2":{"datum":717},"y":{"field":"lo","type":"quantitative","scale":{"domain":[-1.029,57.62],"nice":false,"zero":false,"reverse":true},"axis":null},"y2":{"field":"hi1"}}},
  {"transform":[{"aggregate":[{"op":"min","field":"r","as":"lo"},{"op":"max","field":"r","as":"hi"}]},{"calculate":"datum.hi+1","as":"hi1"}],"mark":{"type":"rect","color":"#a3a9b4"},"encoding":{"x":{"datum":9648,"type":"quantitative","scale":{"domain":[-1190,11135],"nice":false,"zero":false},"axis":null},"x2":{"datum":9695},"y":{"field":"lo","type":"quantitative","scale":{"domain":[-1.029,57.62],"nice":false,"zero":false,"reverse":true},"axis":null},"y2":{"field":"hi1"}}},
  {"transform":[{"calculate":"datum.r+0.07","as":"y0"},{"calculate":"datum.r+0.93","as":"y1"}],"mark":{"type":"rect"},"encoding":{"x":{"field":"a","type":"quantitative","scale":{"domain":[-1190,11135],"nice":false,"zero":false},"axis":null},"x2":{"field":"b"},"y":{"field":"y0","type":"quantitative","scale":{"domain":[-1.029,57.62],"nice":false,"zero":false,"reverse":true},"axis":null},"y2":{"field":"y1"},"color":{"field":"c","type":"nominal","scale":{"domain":["I","H","N","D","R","II","IH","MN","MX"],"range":["#0b2b6c","#a8c46b","#939393","#ffffff","#f3913d","#5b71a4","#d6e4b3","#ececec","#cdcdcd"]},"legend":null}}},
  {"transform":[{"aggregate":[{"op":"min","field":"r","as":"lo"}],"groupby":["s"]},{"filter":"datum.lo>0"}],"mark":{"type":"rule","color":"#000","strokeWidth":2},"encoding":{"x":{"datum":80,"type":"quantitative","scale":{"domain":[-1190,11135],"nice":false,"zero":false},"axis":null},"x2":{"datum":9700},"y":{"field":"lo","type":"quantitative","scale":{"domain":[-1.029,57.62],"nice":false,"zero":false,"reverse":true},"axis":null}}},
  {"transform":[{"aggregate":[{"op":"min","field":"r","as":"lo"},{"op":"max","field":"r","as":"hi"}],"groupby":["s"]},{"calculate":"(datum.lo+datum.hi+1)/2","as":"m"}],"mark":{"type":"text","angle":270,"fontSize":11.5,"color":"#111","align":"center","baseline":"middle"},"encoding":{"x":{"datum":-168,"type":"quantitative","scale":{"domain":[-1190,11135],"nice":false,"zero":false},"axis":null},"y":{"field":"m","type":"quantitative","scale":{"domain":[-1.029,57.62],"nice":false,"zero":false,"reverse":true},"axis":null},"text":{"field":"s"}}},
  {"data":{"name":"annA"},"transform":[{"filter":"datum.k=='s'"},{"calculate":"datum.r+0.5","as":"m"}],"mark":{"type":"text","text":"*","fontSize":10,"color":"#444","align":"center","baseline":"middle","dy":2},"encoding":{"x":{"datum":9762,"type":"quantitative","scale":{"domain":[-1190,11135],"nice":false,"zero":false},"axis":null},"y":{"field":"m","type":"quantitative","scale":{"domain":[-1.029,57.62],"nice":false,"zero":false,"reverse":true},"axis":null}}},
  {"data":{"name":"annA"},"transform":[{"filter":"datum.k=='a'"},{"calculate":"datum.r+0.5","as":"m"}],"mark":{"type":"rule","color":"#d2415a","strokeWidth":0.9},"encoding":{"x":{"datum":9800,"type":"quantitative","scale":{"domain":[-1190,11135],"nice":false,"zero":false},"axis":null},"x2":{"datum":9985},"y":{"field":"m","type":"quantitative","scale":{"domain":[-1.029,57.62],"nice":false,"zero":false,"reverse":true},"axis":null}}},
  {"data":{"name":"annA"},"transform":[{"filter":"datum.k=='a'"},{"calculate":"datum.r+0.5","as":"m"}],"mark":{"type":"point","shape":"triangle-left","size":14,"filled":true,"opacity":1,"color":"#d2415a"},"encoding":{"x":{"datum":9830,"type":"quantitative","scale":{"domain":[-1190,11135],"nice":false,"zero":false},"axis":null},"y":{"field":"m","type":"quantitative","scale":{"domain":[-1.029,57.62],"nice":false,"zero":false,"reverse":true},"axis":null}}}
 ]},
{"width":673,"height":127,
 "data":{"name":"B"},
 "layer":[
  {"transform":[{"aggregate":[{"op":"min","field":"r","as":"lo"},{"op":"max","field":"r","as":"hi"}]},{"calculate":"datum.hi+1","as":"hi1"}],"mark":{"type":"rect","color":"#c4c4c4"},"encoding":{"x":{"datum":717,"type":"quantitative","scale":{"domain":[-1190,11135],"nice":false,"zero":false},"axis":null},"x2":{"datum":9648},"y":{"field":"lo","type":"quantitative","scale":{"domain":[-8.99,26.69],"nice":false,"zero":false,"reverse":true},"axis":null},"y2":{"field":"hi1"}}},
  {"transform":[{"aggregate":[{"op":"min","field":"r","as":"lo"},{"op":"max","field":"r","as":"hi"}]},{"calculate":"datum.hi+1","as":"hi1"}],"mark":{"type":"rect","color":"#959595"},"encoding":{"x":{"datum":85,"type":"quantitative","scale":{"domain":[-1190,11135],"nice":false,"zero":false},"axis":null},"x2":{"datum":717},"y":{"field":"lo","type":"quantitative","scale":{"domain":[-8.99,26.69],"nice":false,"zero":false,"reverse":true},"axis":null},"y2":{"field":"hi1"}}},
  {"transform":[{"aggregate":[{"op":"min","field":"r","as":"lo"},{"op":"max","field":"r","as":"hi"}]},{"calculate":"datum.hi+1","as":"hi1"}],"mark":{"type":"rect","color":"#a3a9b4"},"encoding":{"x":{"datum":9648,"type":"quantitative","scale":{"domain":[-1190,11135],"nice":false,"zero":false},"axis":null},"x2":{"datum":9695},"y":{"field":"lo","type":"quantitative","scale":{"domain":[-8.99,26.69],"nice":false,"zero":false,"reverse":true},"axis":null},"y2":{"field":"hi1"}}},
  {"transform":[{"calculate":"datum.r+0.07","as":"y0"},{"calculate":"datum.r+0.93","as":"y1"}],"mark":{"type":"rect"},"encoding":{"x":{"field":"a","type":"quantitative","scale":{"domain":[-1190,11135],"nice":false,"zero":false},"axis":null},"x2":{"field":"b"},"y":{"field":"y0","type":"quantitative","scale":{"domain":[-8.99,26.69],"nice":false,"zero":false,"reverse":true},"axis":null},"y2":{"field":"y1"},"color":{"field":"c","type":"nominal","scale":{"domain":["I","H","N","D","R","II","IH","MN","MX"],"range":["#0b2b6c","#a8c46b","#939393","#ffffff","#f3913d","#5b71a4","#d6e4b3","#ececec","#cdcdcd"]},"legend":null}}},
  {"transform":[{"aggregate":[{"op":"min","field":"r","as":"lo"},{"op":"max","field":"r","as":"hi"}],"groupby":["s"]},{"calculate":"(datum.lo+datum.hi+1)/2","as":"m"}],"mark":{"type":"text","angle":270,"fontSize":11.5,"color":"#111","align":"center","baseline":"middle"},"encoding":{"x":{"datum":-168,"type":"quantitative","scale":{"domain":[-1190,11135],"nice":false,"zero":false},"axis":null},"y":{"field":"m","type":"quantitative","scale":{"domain":[-8.99,26.69],"nice":false,"zero":false,"reverse":true},"axis":null},"text":{"field":"s"}}},
  {"data":{"name":"brB"},"mark":{"type":"rule","color":"#555","strokeWidth":0.8},"encoding":{"x":{"datum":9762,"type":"quantitative","scale":{"domain":[-1190,11135],"nice":false,"zero":false},"axis":null},"y":{"field":"r0","type":"quantitative","scale":{"domain":[-8.99,26.69],"nice":false,"zero":false,"reverse":true},"axis":null},"y2":{"field":"r1"}}},
  {"data":{"name":"brB"},"mark":{"type":"rule","color":"#555","strokeWidth":0.8},"encoding":{"x":{"datum":9700,"type":"quantitative","scale":{"domain":[-1190,11135],"nice":false,"zero":false},"axis":null},"x2":{"datum":9762},"y":{"field":"r0","type":"quantitative","scale":{"domain":[-8.99,26.69],"nice":false,"zero":false,"reverse":true},"axis":null}}},
  {"data":{"name":"brB"},"mark":{"type":"rule","color":"#555","strokeWidth":0.8},"encoding":{"x":{"datum":9700,"type":"quantitative","scale":{"domain":[-1190,11135],"nice":false,"zero":false},"axis":null},"x2":{"datum":9762},"y":{"field":"r1","type":"quantitative","scale":{"domain":[-8.99,26.69],"nice":false,"zero":false,"reverse":true},"axis":null}}},
  {"data":{"name":"brB"},"mark":{"type":"rule","color":"#d2415a","strokeWidth":0.9},"encoding":{"x":{"datum":9870,"type":"quantitative","scale":{"domain":[-1190,11135],"nice":false,"zero":false},"axis":null},"x2":{"datum":10060},"y":{"field":"ra","type":"quantitative","scale":{"domain":[-8.99,26.69],"nice":false,"zero":false,"reverse":true},"axis":null}}},
  {"data":{"name":"brB"},"mark":{"type":"point","shape":"triangle-left","size":14,"filled":true,"opacity":1,"color":"#d2415a"},"encoding":{"x":{"datum":9900,"type":"quantitative","scale":{"domain":[-1190,11135],"nice":false,"zero":false},"axis":null},"y":{"field":"ra","type":"quantitative","scale":{"domain":[-8.99,26.69],"nice":false,"zero":false,"reverse":true},"axis":null}}},
  {"data":{"values":[{"t":"b"}]},"mark":{"type":"text","fontSize":18,"fontWeight":"bold","color":"#111","align":"center","baseline":"middle"},"encoding":{"x":{"datum":-540,"type":"quantitative","scale":{"domain":[-1190,11135],"nice":false,"zero":false},"axis":null},"y":{"datum":-3.736,"type":"quantitative","scale":{"domain":[-8.99,26.69],"nice":false,"zero":false,"reverse":true},"axis":null},"text":{"field":"t"}}}
 ]},
{"width":673,"height":180,
 "data":{"name":"C"},
 "layer":[
  {"transform":[{"aggregate":[{"op":"min","field":"r","as":"lo"},{"op":"max","field":"r","as":"hi"}]},{"calculate":"datum.hi+1","as":"hi1"}],"mark":{"type":"rect","color":"#c4c4c4"},"encoding":{"x":{"datum":717,"type":"quantitative","scale":{"domain":[-1190,11135],"nice":false,"zero":false},"axis":null},"x2":{"datum":9648},"y":{"field":"lo","type":"quantitative","scale":{"domain":[-4.305,38.75],"nice":false,"zero":false,"reverse":true},"axis":null},"y2":{"field":"hi1"}}},
  {"transform":[{"aggregate":[{"op":"min","field":"r","as":"lo"},{"op":"max","field":"r","as":"hi"}]},{"calculate":"datum.hi+1","as":"hi1"}],"mark":{"type":"rect","color":"#959595"},"encoding":{"x":{"datum":85,"type":"quantitative","scale":{"domain":[-1190,11135],"nice":false,"zero":false},"axis":null},"x2":{"datum":717},"y":{"field":"lo","type":"quantitative","scale":{"domain":[-4.305,38.75],"nice":false,"zero":false,"reverse":true},"axis":null},"y2":{"field":"hi1"}}},
  {"transform":[{"aggregate":[{"op":"min","field":"r","as":"lo"},{"op":"max","field":"r","as":"hi"}]},{"calculate":"datum.hi+1","as":"hi1"}],"mark":{"type":"rect","color":"#a3a9b4"},"encoding":{"x":{"datum":9648,"type":"quantitative","scale":{"domain":[-1190,11135],"nice":false,"zero":false},"axis":null},"x2":{"datum":9695},"y":{"field":"lo","type":"quantitative","scale":{"domain":[-4.305,38.75],"nice":false,"zero":false,"reverse":true},"axis":null},"y2":{"field":"hi1"}}},
  {"transform":[{"calculate":"datum.r+0.07","as":"y0"},{"calculate":"datum.r+0.93","as":"y1"}],"mark":{"type":"rect"},"encoding":{"x":{"field":"a","type":"quantitative","scale":{"domain":[-1190,11135],"nice":false,"zero":false},"axis":null},"x2":{"field":"b"},"y":{"field":"y0","type":"quantitative","scale":{"domain":[-4.305,38.75],"nice":false,"zero":false,"reverse":true},"axis":null},"y2":{"field":"y1"},"color":{"field":"c","type":"nominal","scale":{"domain":["I","H","N","D","R","II","IH","MN","MX"],"range":["#0b2b6c","#a8c46b","#939393","#ffffff","#f3913d","#5b71a4","#d6e4b3","#ececec","#cdcdcd"]},"legend":null}}},
  {"transform":[{"aggregate":[{"op":"min","field":"r","as":"lo"}],"groupby":["s"]},{"filter":"datum.lo>0"}],"mark":{"type":"rule","color":"#000","strokeWidth":2},"encoding":{"x":{"datum":80,"type":"quantitative","scale":{"domain":[-1190,11135],"nice":false,"zero":false},"axis":null},"x2":{"datum":9700},"y":{"field":"lo","type":"quantitative","scale":{"domain":[-4.305,38.75],"nice":false,"zero":false,"reverse":true},"axis":null}}},
  {"transform":[{"aggregate":[{"op":"min","field":"r","as":"lo"},{"op":"max","field":"r","as":"hi"}],"groupby":["s"]},{"calculate":"(datum.lo+datum.hi+1)/2","as":"m"}],"mark":{"type":"text","angle":270,"fontSize":11.5,"color":"#111","align":"center","baseline":"middle"},"encoding":{"x":{"datum":-168,"type":"quantitative","scale":{"domain":[-1190,11135],"nice":false,"zero":false},"axis":null},"y":{"field":"m","type":"quantitative","scale":{"domain":[-4.305,38.75],"nice":false,"zero":false,"reverse":true},"axis":null},"text":{"field":"s"}}},
  {"data":{"name":"brC"},"mark":{"type":"rule","color":"#555","strokeWidth":0.8},"encoding":{"x":{"datum":9762,"type":"quantitative","scale":{"domain":[-1190,11135],"nice":false,"zero":false},"axis":null},"y":{"field":"r0","type":"quantitative","scale":{"domain":[-4.305,38.75],"nice":false,"zero":false,"reverse":true},"axis":null},"y2":{"field":"r1"}}},
  {"data":{"name":"brC"},"mark":{"type":"rule","color":"#555","strokeWidth":0.8},"encoding":{"x":{"datum":9700,"type":"quantitative","scale":{"domain":[-1190,11135],"nice":false,"zero":false},"axis":null},"x2":{"datum":9762},"y":{"field":"r0","type":"quantitative","scale":{"domain":[-4.305,38.75],"nice":false,"zero":false,"reverse":true},"axis":null}}},
  {"data":{"name":"brC"},"mark":{"type":"rule","color":"#555","strokeWidth":0.8},"encoding":{"x":{"datum":9700,"type":"quantitative","scale":{"domain":[-1190,11135],"nice":false,"zero":false},"axis":null},"x2":{"datum":9762},"y":{"field":"r1","type":"quantitative","scale":{"domain":[-4.305,38.75],"nice":false,"zero":false,"reverse":true},"axis":null}}},
  {"data":{"name":"brC"},"mark":{"type":"rule","color":"#d2415a","strokeWidth":0.9},"encoding":{"x":{"datum":9870,"type":"quantitative","scale":{"domain":[-1190,11135],"nice":false,"zero":false},"axis":null},"x2":{"datum":10060},"y":{"field":"ra","type":"quantitative","scale":{"domain":[-4.305,38.75],"nice":false,"zero":false,"reverse":true},"axis":null}}},
  {"data":{"name":"brC"},"mark":{"type":"point","shape":"triangle-left","size":14,"filled":true,"opacity":1,"color":"#d2415a"},"encoding":{"x":{"datum":9900,"type":"quantitative","scale":{"domain":[-1190,11135],"nice":false,"zero":false},"axis":null},"y":{"field":"ra","type":"quantitative","scale":{"domain":[-4.305,38.75],"nice":false,"zero":false,"reverse":true},"axis":null}}},
  {"data":{"values":[{"t":"c"}]},"mark":{"type":"text","fontSize":18,"fontWeight":"bold","color":"#111","align":"center","baseline":"middle"},"encoding":{"x":{"datum":-540,"type":"quantitative","scale":{"domain":[-1190,11135],"nice":false,"zero":false},"axis":null},"y":{"datum":-2.033,"type":"quantitative","scale":{"domain":[-4.305,38.75],"nice":false,"zero":false,"reverse":true},"axis":null},"text":{"field":"t"}}}
 ]},
{"width":673,"height":60,
 "data":{"values":[{"c":"x"}]},
 "transform":[{"filter":"false"}],
 "layer":[
  {"mark":{"type":"rect","stroke":"#8a8a8a","strokeWidth":0.6},"encoding":{"color":{"field":"c","type":"nominal","scale":{"domain":["Intact sequence","Hypermutated","Not sequenced","Mapped deletion","Sequence in reverse orientation"],"range":["#0b2b6c","#a8c46b","#939393","#ffffff","#f3913d"]},"legend":{"orient":"none","legendX":51,"legendY":2,"direction":"horizontal","columns":5,"title":null,"padding":0,"symbolType":"square","symbolSize":196,"symbolStrokeColor":"#8a8a8a","symbolStrokeWidth":0.6,"symbolOpacity":1,"labelFont":"Liberation Sans","labelFontSize":11.6,"labelColor":"#111","labelOffset":4,"columnPadding":9,"labelLimit":300,"labelExpr":"datum.label == 'Sequence in reverse orientation' ? ['Sequence in', 'reverse orientation'] : datum.label"}}}},
  {"mark":{"type":"rect","stroke":"#8a8a8a","strokeWidth":0.6},"encoding":{"color":{"field":"c","type":"nominal","scale":{"domain":["Inferred intact","Inferred hypermutated","Min. deletion size","Max. deletion size"],"range":["#5b71a4","#d6e4b3","#ececec","#cdcdcd"]},"legend":{"orient":"none","legendX":65,"legendY":33,"direction":"horizontal","columns":4,"title":null,"padding":0,"symbolType":"square","symbolSize":196,"symbolStrokeColor":"#8a8a8a","symbolStrokeWidth":0.6,"symbolOpacity":1,"labelFont":"Liberation Sans","labelFontSize":11.6,"labelColor":"#111","labelOffset":4,"columnPadding":14,"labelLimit":300}}}}
 ],
 "resolve":{"scale":{"color":"independent"}}},
{"width":673,"height":262,
 "layer":[
  {"data":{"name":"pie"},"transform":[{"calculate":"indexof(['in','ps','d5','d3','vl','ce','hy','hd','ot'],datum.c)","as":"o"},{"stack":"v","groupby":["p"],"sort":[{"field":"o","order":"ascending"}],"offset":"normalize","as":["t0","t1"]}],"mark":{"type":"arc","outerRadius":80},"encoding":{"x":{"field":"p","type":"nominal","scale":{"type":"point","domain":["A","S","V"],"range":[162,540],"padding":0},"axis":null},"theta":{"field":"t0","type":"quantitative","stack":null,"scale":{"domain":[0,1]}},"theta2":{"field":"t1"},"color":{"field":"c","type":"nominal","scale":{"domain":["in","ps","d5","d3","vl","ce","hy","hd","ot"],"range":["#c9435c","#2a4a70","#4573a6","#a6c1e1","#c7d9ef","#e4edf8","#a1bf62","#d0dfac","#7b5a93"]},"legend":null}}},
  {"data":{"name":"pie"},"transform":[{"calculate":"indexof(['in','ps','d5','d3','vl','ce','hy','hd','ot'],datum.c)","as":"o"},{"stack":"v","groupby":["p"],"sort":[{"field":"o","order":"ascending"}],"offset":"normalize","as":["t0","t1"]},{"calculate":"(datum.t0+datum.t1)/2","as":"tm"},{"calculate":"datum.v+'%'","as":"lab"},{"filter":"!(datum.v < 4 || (datum.v == 4 && datum.p == 'A'))"}],"mark":{"type":"text","radius":64,"fontSize":13.5,"color":"#1a1a1a","align":"center","baseline":"middle"},"encoding":{"x":{"field":"p","type":"nominal","scale":{"type":"point","domain":["A","S","V"],"range":[162,540],"padding":0},"axis":null},"theta":{"field":"tm","type":"quantitative","stack":null,"scale":{"domain":[0,1]}},"text":{"field":"lab"}}},
  {"data":{"name":"pie"},"transform":[{"calculate":"indexof(['in','ps','d5','d3','vl','ce','hy','hd','ot'],datum.c)","as":"o"},{"stack":"v","groupby":["p"],"sort":[{"field":"o","order":"ascending"}],"offset":"normalize","as":["t0","t1"]},{"calculate":"(datum.t0+datum.t1)/2","as":"tm"},{"calculate":"datum.v+'%'","as":"lab"},{"filter":"datum.v < 4 || (datum.v == 4 && datum.p == 'A')"}],"mark":{"type":"text","radius":93,"fontSize":13.5,"color":"#1a1a1a","align":"center","baseline":"middle"},"encoding":{"x":{"field":"p","type":"nominal","scale":{"type":"point","domain":["A","S","V"],"range":[162,540],"padding":0},"axis":null},"theta":{"field":"tm","type":"quantitative","stack":null,"scale":{"domain":[0,1]}},"text":{"field":"lab"}}},
  {"data":{"name":"pies"},"mark":{"type":"text","fontSize":14,"color":"#1a1a1a","align":"center","baseline":"middle","dy":-113},"encoding":{"x":{"field":"p","type":"nominal","scale":{"type":"point","domain":["A","S","V"],"range":[162,540],"padding":0},"axis":null},"text":{"field":"t"}}},
  {"data":{"name":"pies"},"mark":{"type":"text","fontSize":13.7,"color":"#1a1a1a","align":"center","baseline":"middle","dy":96},"encoding":{"x":{"field":"p","type":"nominal","scale":{"type":"point","domain":["A","S","V"],"range":[162,540],"padding":0},"axis":null},"text":{"field":"n"}}},
  {"data":{"values":[{"t":"d"}]},"mark":{"type":"text","fontSize":18,"fontWeight":"bold","color":"#111","align":"center","baseline":"middle","dx":-127,"dy":-123.5},"encoding":{"x":{"datum":"A","type":"nominal","scale":{"type":"point","domain":["A","S","V"],"range":[162,540],"padding":0},"axis":null},"text":{"field":"t"}}}
 ]},
{"width":673,"height":42,
 "data":{"values":[{"c":"x"}]},
 "transform":[{"filter":"false"}],
 "layer":[
  {"mark":{"type":"rect","stroke":"#444","strokeWidth":0.9},"encoding":{"color":{"field":"c","type":"nominal","scale":{"domain":["Intact","Packaging signal deletion","Deletion within 5′ half of the genome","Deletion within 3′ half of the genome"],"range":["#c9435c","#2a4a70","#4573a6","#a6c1e1"]},"legend":{"orient":"none","legendX":9,"legendY":-16,"direction":"horizontal","columns":4,"title":null,"padding":0,"symbolType":"square","symbolSize":210,"symbolStrokeColor":"#444","symbolStrokeWidth":0.9,"symbolOpacity":1,"labelFont":"Liberation Sans","labelFontSize":11.3,"labelColor":"#111","labelOffset":8,"columnPadding":8,"labelLimit":300}}}},
  {"mark":{"type":"rect","stroke":"#444","strokeWidth":0.9},"encoding":{"color":{"field":"c","type":"nominal","scale":{"domain":["Very large internal deletion","Central deletion","Hypermutated","Hypermutated and deleted","Other defects"],"range":["#c7d9ef","#e4edf8","#a1bf62","#d0dfac","#7b5a93"]},"legend":{"orient":"none","legendX":9,"legendY":17,"direction":"horizontal","columns":5,"title":null,"padding":0,"symbolType":"square","symbolSize":210,"symbolStrokeColor":"#444","symbolStrokeWidth":0.9,"symbolOpacity":1,"labelFont":"Liberation Sans","labelFontSize":11.2,"labelColor":"#111","labelOffset":8,"columnPadding":6,"labelLimit":300}}}}
 ],
 "resolve":{"scale":{"color":"independent"}}}
]
}
